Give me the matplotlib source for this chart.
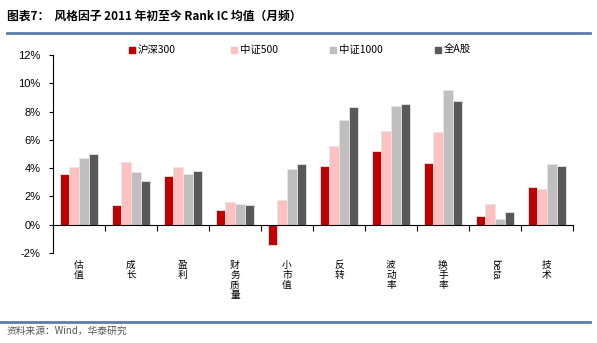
import numpy as np
import matplotlib.pyplot as plt
from matplotlib.patches import Rectangle
from matplotlib.lines import Line2D
import matplotlib.transforms as mtransforms

plt.rcParams['font.family'] = ['Liberation Sans', 'Noto Sans CJK SC', 'DejaVu Sans']

# ---- data (Rank IC mean, %) ----
factors = ['估值', '成长', '盈利', '财务质量', '小市值', '反转', '波动率', '换手率', 'beta', '技术']
series_names = ['沪深300', '中证500', '中证1000', '全A股']
hs300 = [3.62, 1.39, 3.41, 1.01, -1.40, 4.14, 5.20, 4.33, 0.61, 2.68]
zz500 = [4.09, 4.40, 4.05, 1.60, 1.74, 5.58, 6.66, 6.56, 1.48, 2.52]
zz1000 = [4.73, 3.72, 3.58, 1.44, 3.93, 7.41, 8.38, 9.53, 0.38, 4.28]
all_a = [4.99, 3.08, 3.79, 1.36, 4.28, 8.35, 8.54, 8.75, 0.89, 4.16]
colors = ['#C00000', '#FFC0C0', '#BFBFBF', '#595959']

W, H = 597, 343
fig = plt.figure(figsize=(W / 100, H / 100), dpi=100)
ax = fig.add_axes([53 / W, 1 - 253 / H, 520 / W, 198 / H])

x = np.arange(len(factors))
w = 0.183
for i, (vals, c) in enumerate(zip([hs300, zz500, zz1000, all_a], colors)):
    ax.bar(x + (i - 1.5) * w, vals, width=w, color=c, edgecolor='#E6E6E6', linewidth=0.6, zorder=2)

ax.set_xlim(-0.5, len(factors) - 0.5)
ax.set_ylim(-2, 12)
ax.set_yticks(np.arange(-2, 13, 2))
ax.set_yticklabels([f'{v}%' for v in range(-2, 13, 2)], fontsize=8)
ax.tick_params(axis='y', direction='out', length=3, width=0.8, pad=6)

# x axis at zero, ticks between categories
ax.spines['top'].set_visible(False)
ax.spines['right'].set_visible(False)
ax.spines['bottom'].set_position(('data', 0))
ax.spines['bottom'].set_zorder(3)
ax.set_xticks(np.arange(-0.5, len(factors), 1.0))
ax.set_xticklabels([])
ax.tick_params(axis='x', direction='out', length=4, width=0.8)

# vertical category labels
trans = mtransforms.blended_transform_factory(ax.transData, fig.transFigure)
for xi, name in zip(x, factors):
    if name == 'beta':
        ax.text(xi, 1 - 259 / H, name, transform=trans, rotation=-90, ha='center', va='top',
                fontsize=7.5)
    else:
        ax.text(xi, 1 - 260 / H, '\n'.join(name), transform=trans, ha='center', va='top',
                fontsize=7, linespacing=1.0, family=['Noto Sans CJK SC'])

# legend
leg_x = [132, 234, 333, 438]
for lx, name, c in zip(leg_x, series_names, colors):
    fig.patches.append(Rectangle(((lx - 3) / W, 1 - 53 / H), 6 / W, 6 / H,
                                 transform=fig.transFigure, color=c, figure=fig))
    fig.text((lx + 6) / W, 1 - 50 / H, name, fontsize=7.5, va='center', ha='left',
             family=['Noto Sans CJK SC', 'Liberation Sans'])

# title and frame lines
fig.text(7 / W, 1 - 16 / H, '图表7：  风格因子 2011 年初至今 Rank IC 均值（月频）',
         fontsize=8.5, fontweight='bold', va='center', ha='left',
         family=['Noto Sans CJK SC', 'Liberation Sans'])
fig.add_artist(Line2D([7 / W, 590 / W], [1 - 33 / H] * 2, transform=fig.transFigure,
                      color='#5B7DA8', linewidth=2))
fig.add_artist(Line2D([0, 590 / W], [1 - 322 / H] * 2, transform=fig.transFigure,
                      color='#5B7DA8', linewidth=2))
fig.text(7 / W, 1 - 331 / H, '资料来源：Wind，华泰研究', fontsize=7, color='#555555',
         va='center', ha='left', family=['Noto Sans CJK SC', 'Liberation Sans'])

fig.savefig('out.png', dpi=100)
